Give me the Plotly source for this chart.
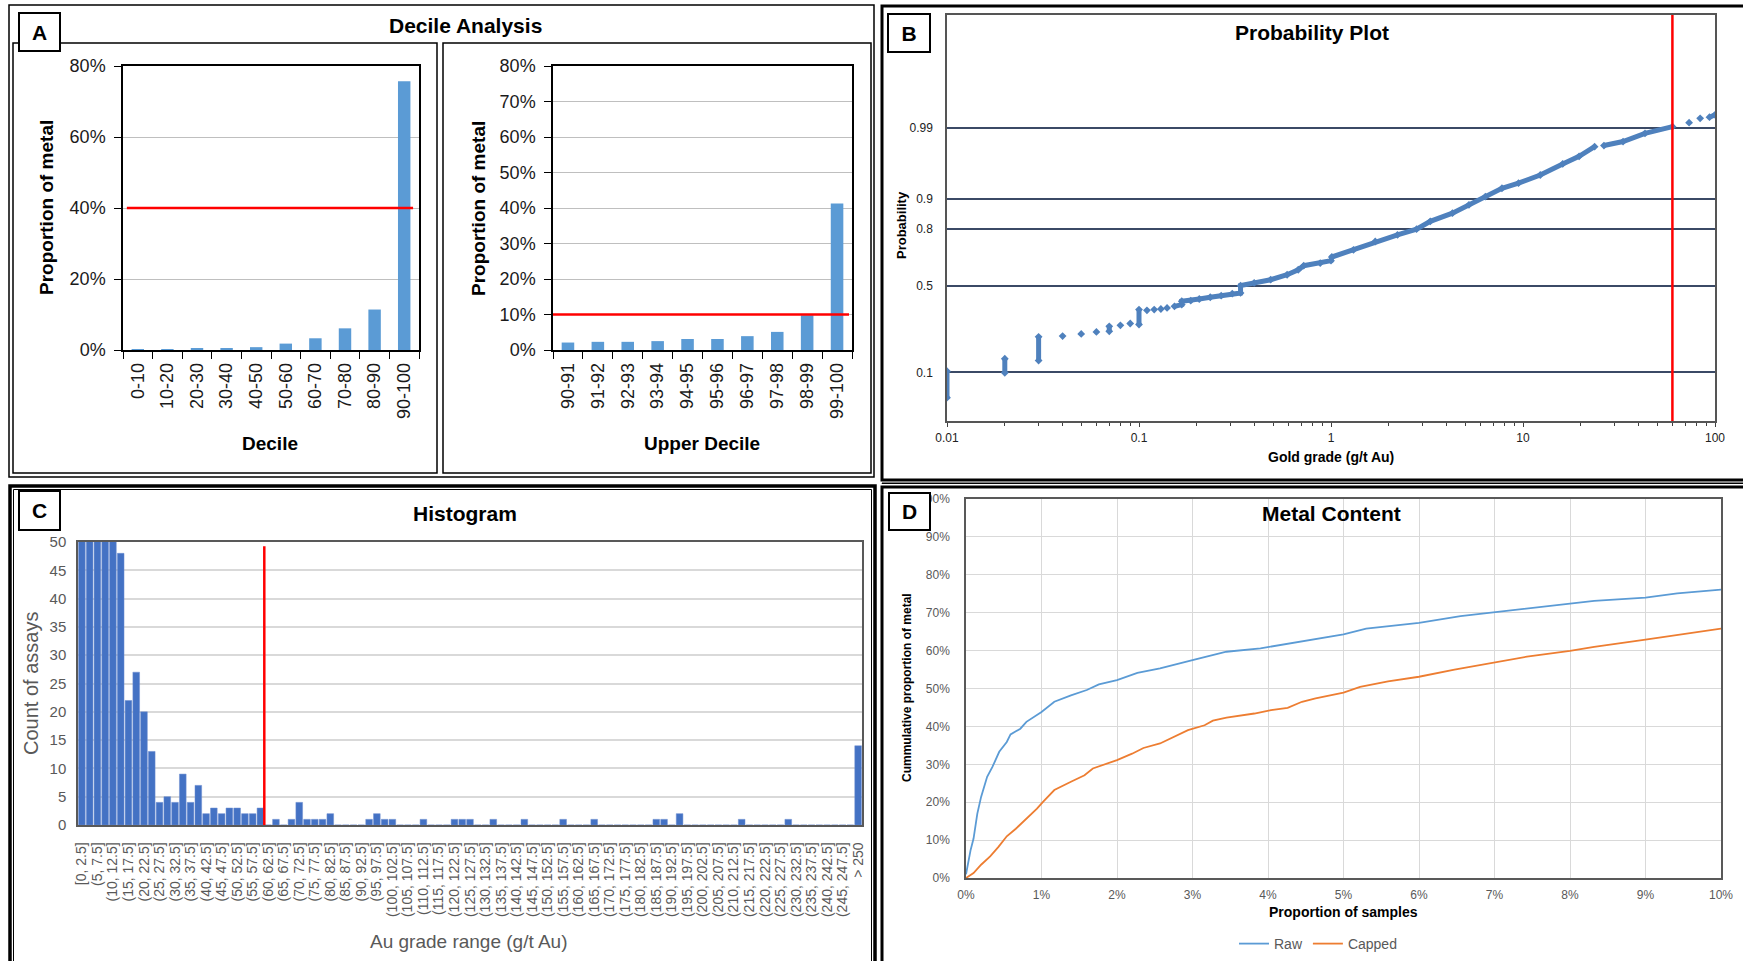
import plotly.graph_objects as go
from statistics import NormalDist

W, H = 1743, 961

# ---------------- Panel A : decile analysis ----------------
decile_labels = ['0-10', '10-20', '20-30', '30-40', '40-50',
                 '50-60', '60-70', '70-80', '80-90', '90-100']
decile_metal_pct = [0.2, 0.2, 0.3, 0.4, 0.8, 1.8, 3.3, 6.1, 11.4, 75.7]
decile_threshold_pct = 40

upper_labels = ['90-91', '91-92', '92-93', '93-94', '94-95',
                '95-96', '96-97', '97-98', '98-99', '99-100']
upper_metal_pct = [2.1, 2.3, 2.3, 2.5, 3.1, 3.1, 3.9, 5.1, 9.8, 41.3]
upper_threshold_pct = 10

# ---------------- Panel B : probability plot ----------------
prob_grade = [0.01, 0.01, None, 0.02, 0.02, None, 0.03, 0.03, None,
              0.04, None, 0.05, None, 0.06, None, 0.07, 0.07, None,
              0.08, None, 0.09, None, 0.10, 0.10, None,
              0.110, None, 0.120, None, 0.130, None, 0.140, None,
              0.153, 0.167, 0.167, 0.186, 0.206, 0.235, 0.268, 0.306,
              0.338, 0.338, 0.398, 0.485, 0.591, 0.675, 0.721, 0.879,
              1.00, 1.01, 1.31, 1.70, 2.22, 2.79, 3.29, 4.29, 5.23, 6.37,
              7.77, 9.47, 12.3, 16.1, 19.6, 23.6, None,
              26.4, 33.2, 43.2, 60.1, None, 73.3, None, 83.7, None, 93.6, 100]
prob_cum = [0.049, 0.103, None, 0.099, 0.140, None, 0.134, 0.225, None,
            0.228, None, 0.238, None, 0.247, None, 0.250, 0.274, None,
            0.279, None, 0.288, None, 0.283, 0.362, None,
            0.358, None, 0.362, None, 0.365, None, 0.371, None,
            0.380, 0.390, 0.409, 0.412, 0.422, 0.432, 0.441, 0.453,
            0.457, 0.500, 0.516, 0.535, 0.564, 0.593, 0.616, 0.631,
            0.644, 0.664, 0.702, 0.743, 0.774, 0.798, 0.829, 0.858, 0.884, 0.906,
            0.925, 0.935, 0.949, 0.964, 0.972, 0.980, None,
            0.9808, 0.9834, 0.9878, 0.9906, None, 0.992, None, 0.9933, None, 0.9936, 0.9942]
prob_ticks = [0.1, 0.5, 0.8, 0.9, 0.99]
prob_tick_text = ['0.1', '0.5', '0.8', '0.9', '0.99']
grade_ticks = [0.01, 0.1, 1, 10, 100]
grade_tick_text = ['0.01', '0.1', '1', '10', '100']
grade_cap = 60

# ---------------- Panel C : histogram ----------------
hist_bin_width = 2.5
hist_labels = (['[0, 2.5]'] +
               ['(%g, %g]' % (hist_bin_width * i, hist_bin_width * (i + 1)) for i in range(1, 100)] +
               ['> 250'])
hist_counts = [260, 140, 90, 66, 54, 48, 22, 27, 20, 13,
               4, 5, 4, 9, 4, 7, 2, 3, 2, 3,
               3, 2, 2, 3, 0, 1, 0, 1, 4, 1,
               1, 1, 2, 0, 0, 0, 0, 1, 2, 1,
               1, 0, 0, 0, 1, 0, 0, 0, 1, 1,
               1, 0, 0, 1, 0, 0, 0, 1, 0, 0,
               0, 0, 1, 0, 0, 0, 1, 0, 0, 0,
               0, 0, 0, 0, 1, 1, 0, 2, 0, 0,
               0, 0, 0, 0, 0, 1, 0, 0, 0, 0,
               0, 1, 0, 0, 0, 0, 0, 0, 0, 0,
               14]
hist_cap_position = 23.5  # boundary between (57.5, 60] and (60, 62.5]

# ---------------- Panel D : metal content ----------------
raw_x = [0, 0.06, 0.1, 0.15, 0.2, 0.28, 0.35, 0.44, 0.54, 0.59, 0.72, 0.8, 1.0,
         1.17, 1.39, 1.6, 1.76, 2.0, 2.27, 2.57, 3.0, 3.45, 3.9, 4.23, 4.63, 5.0,
         5.3, 6.0, 6.55, 7.0, 7.58, 8.0, 8.32, 9.0, 9.42, 10.0]
raw_y = [1.0, 7.3, 10.4, 17.0, 21.4, 26.7, 29.3, 33.3, 35.9, 37.9, 39.4, 41.2, 43.8,
         46.5, 48.2, 49.6, 51.1, 52.2, 54.1, 55.3, 57.5, 59.7, 60.6, 61.7, 63.2, 64.3,
         65.8, 67.3, 69.1, 70.1, 71.4, 72.3, 73.1, 74.0, 75.1, 76.1]
cap_x = [0, 0.1, 0.2, 0.32, 0.43, 0.54, 0.66, 0.78, 0.94, 1.02, 1.17, 1.39, 1.57,
         1.68, 1.83, 2.0, 2.2, 2.35, 2.57, 2.75, 2.94, 3.16, 3.27, 3.45, 3.82, 4.04,
         4.26, 4.45, 4.63, 5.0, 5.22, 5.59, 6.0, 6.47, 7.0, 7.43, 8.0, 8.32, 9.0,
         9.42, 10.0]
cap_y = [0, 1.3, 3.5, 5.7, 8.2, 11.0, 13.0, 15.2, 18.3, 20.1, 23.2, 25.4, 27.1,
         28.9, 30.0, 31.1, 32.8, 34.3, 35.5, 37.2, 39.0, 40.3, 41.5, 42.3, 43.4, 44.3,
         44.9, 46.5, 47.4, 48.9, 50.4, 51.9, 53.1, 55.0, 56.8, 58.4, 59.9, 61.0, 62.9,
         64.1, 65.8]

# ---------------- helpers ----------------
FA = 'Liberation Sans, Arial, sans-serif'


def px(x):
    return x / W


def py(y):
    return 1 - y / H


def zq(p):
    return None if p is None else NormalDist().inv_cdf(p)


fig = go.Figure()

# Panel A bars
fig.add_trace(go.Bar(x=decile_labels, y=decile_metal_pct, width=0.42,
                     marker=dict(color='#5B9BD5', line=dict(width=0)),
                     xaxis='x', yaxis='y', showlegend=False))
fig.add_trace(go.Bar(x=upper_labels, y=upper_metal_pct, width=0.42,
                     marker=dict(color='#5B9BD5', line=dict(width=0)),
                     xaxis='x2', yaxis='y2', showlegend=False))

# Panel B
fig.add_trace(go.Scatter(x=prob_grade, y=[zq(p) for p in prob_cum], mode='lines+markers',
                         connectgaps=False,
                         line=dict(color='#4F81BD', width=5),
                         marker=dict(symbol='diamond', size=6, color='#4F81BD'),
                         xaxis='x3', yaxis='y3', showlegend=False))
fig.add_trace(go.Scatter(x=[grade_cap, grade_cap], y=[-2, 4], mode='lines',
                         line=dict(color='#FF0000', width=2.5),
                         xaxis='x3', yaxis='y3', showlegend=False))

# Panel C
fig.add_trace(go.Bar(x=hist_labels, y=hist_counts, width=0.86,
                     marker=dict(color='#4472C4', line=dict(color='#6F8FD0', width=0.5)),
                     xaxis='x4', yaxis='y4', showlegend=False))

# Panel D
fig.add_trace(go.Scatter(x=raw_x, y=raw_y, mode='lines', name='Raw',
                         line=dict(color='#5B9BD5', width=1.8),
                         xaxis='x5', yaxis='y5'))
fig.add_trace(go.Scatter(x=cap_x, y=cap_y, mode='lines', name='Capped',
                         line=dict(color='#ED7D31', width=1.8),
                         xaxis='x5', yaxis='y5'))

tick_a = dict(family=FA, size=18, color='#1a1a1a')

xa_common = dict(type='category', range=[-0.5, 9.5], tickangle=-90, ticks='outside',
                 tickson='boundaries', ticklen=7, tickcolor='black', tickwidth=1.2,
                 showline=True, linecolor='black', linewidth=1.5, mirror=True,
                 showgrid=False, tickfont=tick_a, ticklabelstandoff=4, automargin=False)
ya_common = dict(ticksuffix='%', ticks='outside', ticklen=7, tickcolor='black',
                 showgrid=True, gridcolor='#BFBFBF', gridwidth=1, showline=True,
                 linecolor='black', linewidth=1.5, mirror=True, zeroline=False,
                 tickfont=tick_a, ticklabelstandoff=5, automargin=False)

minor_grades = [m * d for d in (0.01, 0.1, 1, 10) for m in range(2, 10)]

fig.update_layout(
    width=W, height=H, margin=dict(l=0, r=0, t=0, b=0, autoexpand=False),
    paper_bgcolor='white', plot_bgcolor='white',
    font=dict(family=FA),
    xaxis=dict(domain=[px(123), px(419)], anchor='y', **xa_common),
    yaxis=dict(domain=[py(350), py(66)], anchor='x', range=[0, 80], dtick=20, **ya_common),
    xaxis2=dict(domain=[px(553), px(852)], anchor='y2', **xa_common),
    yaxis2=dict(domain=[py(350), py(66)], anchor='x2', range=[0, 80], dtick=10, **ya_common),
    xaxis3=dict(domain=[px(947), px(1715)], anchor='y3', type='log', range=[-2, 2],
                tickmode='array', tickvals=grade_ticks, ticktext=grade_tick_text,
                ticks='outside', ticklen=4, tickcolor='#404040',
                minor=dict(tickmode='array', tickvals=minor_grades, ticks='outside',
                           ticklen=3, tickcolor='#404040', showgrid=False),
                showgrid=False, showline=True, linecolor='#555555', linewidth=1.5,
                mirror=True, tickfont=dict(family=FA, size=12, color='#222222'),
                ticklabelstandoff=1, automargin=False),
    yaxis3=dict(domain=[py(421), py(15)], anchor='x3', range=[-2, 4],
                tickmode='array', tickvals=[zq(p) for p in prob_ticks], ticktext=prob_tick_text,
                showgrid=True, gridcolor='#3B4A66', gridwidth=2, zeroline=False,
                showline=True, linecolor='#555555', linewidth=1.5, mirror=True, ticks='',
                tickfont=dict(family=FA, size=12, color='#222222'), ticklabelstandoff=10,
                automargin=False),
    xaxis4=dict(domain=[px(78), px(862)], anchor='y4', type='category', range=[-0.5, 100.5],
                tickmode='array', tickvals=hist_labels[::2], ticktext=hist_labels[::2],
                tickangle=-90, ticks='', showline=True, linecolor='#595959', linewidth=1.5,
                mirror=True, showgrid=False,
                tickfont=dict(family=FA, size=14, color='#595959'), ticklabelstandoff=10,
                automargin=False),
    yaxis4=dict(domain=[py(825), py(542)], anchor='x4', range=[0, 50], dtick=5,
                showgrid=True, gridcolor='#D9D9D9', gridwidth=1.5, zeroline=False,
                showline=True, linecolor='#595959', linewidth=1.5, mirror=True, ticks='',
                tickfont=dict(family=FA, size=15, color='#595959'), ticklabelstandoff=7,
                automargin=False),
    xaxis5=dict(domain=[px(966), px(1721)], anchor='y5', range=[0, 10], dtick=1,
                ticksuffix='%', showgrid=True, gridcolor='#D9D9D9', zeroline=False,
                showline=True, linecolor='#595959', linewidth=1.5, mirror=True, ticks='',
                tickfont=dict(family=FA, size=12, color='#595959'), ticklabelstandoff=5,
                automargin=False),
    yaxis5=dict(domain=[py(878), py(499)], anchor='x5', range=[0, 100], dtick=10,
                ticksuffix='%', showgrid=True, gridcolor='#D9D9D9', zeroline=False,
                showline=True, linecolor='#595959', linewidth=1.5, mirror=True, ticks='',
                tickfont=dict(family=FA, size=12, color='#595959'), ticklabelstandoff=12,
                automargin=False),
    legend=dict(orientation='h', x=px(1318), xanchor='center', y=py(944), yanchor='middle',
                font=dict(family=FA, size=14, color='#595959'), bgcolor='rgba(0,0,0,0)',
                itemwidth=30, tracegroupgap=0),
)

shapes = []
# Threshold lines
shapes.append(dict(type='line', xref='x domain', yref='y', x0=0.013, x1=0.98,
                   y0=decile_threshold_pct, y1=decile_threshold_pct,
                   line=dict(color='#FF0000', width=2.5)))
shapes.append(dict(type='line', xref='x2 domain', yref='y2', x0=0.0, x1=0.99,
                   y0=upper_threshold_pct, y1=upper_threshold_pct,
                   line=dict(color='#FF0000', width=2.5)))
shapes.append(dict(type='line', xref='x4', yref='y4 domain', x0=hist_cap_position,
                   x1=hist_cap_position, y0=0, y1=0.985,
                   line=dict(color='#FF0000', width=2.5)))


def rect(x0, y0, x1, y1, w, color='black'):
    return dict(type='rect', xref='paper', yref='paper', x0=px(x0), x1=px(x1),
                y0=py(y1), y1=py(y0), line=dict(color=color, width=w),
                fillcolor='rgba(0,0,0,0)', layer='above')


# Panel frames
shapes.append(rect(9, 5, 874, 477, 1.5))
shapes.append(rect(13, 43, 437, 473, 1.5))
shapes.append(rect(443, 43, 871, 473, 1.5))
shapes.append(rect(882, 6, 1748, 480, 3))
shapes.append(rect(10, 486, 875, 970, 3.5))
shapes.append(rect(13.5, 489.5, 871.5, 970, 1))
shapes.append(rect(882, 487, 1748, 970, 3))
shapes.append(rect(882, 483, 1748, 483.5, 1))
fig.update_layout(shapes=shapes)

annotations = []


def ann(text, x, y, size, bold=False, color='black', angle=0, family=FA):
    return dict(text=('<b>%s</b>' % text) if bold else text, x=px(x), y=py(y),
                xref='paper', yref='paper', showarrow=False, xanchor='center',
                yanchor='middle', textangle=angle,
                font=dict(family=family, size=size, color=color))


def label_box(letter, x0, y0, x1, y1):
    return dict(text='<b>%s</b>' % letter, x=px((x0 + x1) / 2), y=py((y0 + y1) / 2),
                xref='paper', yref='paper', showarrow=False, xanchor='center',
                yanchor='middle', width=x1 - x0 - 4, height=y1 - y0 - 4,
                bgcolor='white', bordercolor='black', borderwidth=2, borderpad=0,
                font=dict(family=FA, size=21, color='black'))


annotations += [
    ann('Decile Analysis', 465, 26, 21, bold=True),
    ann('Proportion of metal', 47, 208, 19, bold=True, angle=-90),
    ann('Decile', 270, 443, 19, bold=True),
    ann('Proportion of metal', 479, 208, 19, bold=True, angle=-90),
    ann('Upper Decile', 702, 443, 19, bold=True),
    ann('Probability Plot', 1312, 32, 21, bold=True),
    ann('Probability', 902, 225, 13, bold=True, angle=-90),
    ann('Gold grade (g/t Au)', 1331, 457, 14, bold=True),
    ann('Histogram', 465, 513, 21, bold=True),
    ann('Count of assays', 31, 684, 20, color='#595959', angle=-90),
    ann('Au grade range (g/t Au)', 469, 941, 19, color='#595959'),
    ann('Metal Content', 1331, 513, 21, bold=True),
    ann('Cummulative proportion of metal', 907, 688, 12, bold=True, angle=-90),
    ann('Proportion of samples', 1343, 912, 14, bold=True),
    label_box('A', 18, 12, 61, 52),
    label_box('B', 887, 13, 931, 53),
    label_box('C', 18, 490, 61, 531),
    label_box('D', 888, 492, 931, 531),
]
fig.update_layout(annotations=annotations)

fig.write_html('out.html')
